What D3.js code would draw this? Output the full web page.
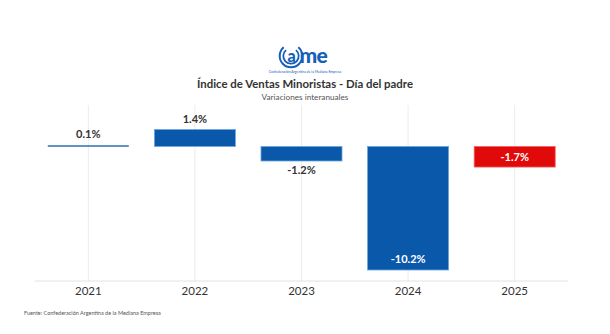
<!DOCTYPE html>
<html>
<head>
<meta charset="utf-8">
<script src="https://cdn.jsdelivr.net/npm/d3@7"></script>
<style>
  body { margin: 0; background: #fff; }
  svg { display: block; font-family: "Lato", "Open Sans", sans-serif; }
</style>
</head>
<body>
<svg id="chart" width="610" height="334"></svg>
<script>
const years = ["2021", "2022", "2023", "2024", "2025"];
const values = [0.1, 1.4, -1.2, -10.2, -1.7];
const labels = ["0.1%", "1.4%", "-1.2%", "-10.2%", "-1.7%"];
const barColors = ["#2f6fb3", "#0a58aa", "#0a58aa", "#0a58aa", "#e10a0a"];

const svg = d3.select("#chart");
const margin = { left: 35, right: 42, top: 105, bottom: 53 };
const width = 610, height = 334;

const x = d3.scaleBand()
  .domain(years)
  .range([margin.left, width - margin.right])
  .paddingInner(0.24)
  .paddingOuter(0.12);

const y = d3.scaleLinear()
  .domain([-10.2, 1.4])
  .range([270, 129.5]);

// logo
const logo = svg.append("g").attr("transform", "translate(291,56)");
const ring = d3.arc();
[[10.3, 12.3], [6.8, 8.6]].forEach(([r0, r1]) => {
  logo.append("path")
    .attr("d", ring({ innerRadius: r0, outerRadius: r1, startAngle: 0.7, endAngle: 2 * Math.PI - 0.7 }))
    .attr("fill", "#1560b8");
});
logo.append("text")
  .attr("x", 0.5).attr("y", 5.5)
  .attr("text-anchor", "middle")
  .attr("font-size", 16).attr("font-weight", 900)
  .attr("fill", "#1560b8")
  .text("a");
logo.append("text")
  .attr("x", 8.5).attr("y", 6.5)
  .attr("font-size", 21).attr("font-weight", 900)
  .attr("letter-spacing", -0.8)
  .attr("fill", "#1560b8")
  .text("me");
svg.append("text")
  .attr("x", 305).attr("y", 72.5)
  .attr("text-anchor", "middle")
  .attr("font-size", 3.4)
  .attr("fill", "#1560b8")
  .text("Confederación Argentina de la Mediana Empresa");

// titles
svg.append("text")
  .attr("x", 305).attr("y", 88)
  .attr("text-anchor", "middle")
  .attr("font-size", 11.4).attr("font-weight", 700)
  .attr("fill", "#333")
  .text("Índice de Ventas Minoristas - Día del padre");
svg.append("text")
  .attr("x", 305).attr("y", 100)
  .attr("text-anchor", "middle")
  .attr("font-size", 8.2)
  .attr("fill", "#555")
  .text("Variaciones interanuales");

// vertical grid at category centres
svg.append("g")
  .selectAll("line")
  .data(years)
  .join("line")
  .attr("x1", d => x(d) + x.bandwidth() / 2)
  .attr("x2", d => x(d) + x.bandwidth() / 2)
  .attr("y1", margin.top)
  .attr("y2", 281)
  .attr("stroke", "#ececec")
  .attr("stroke-width", 1);

// bars
svg.append("g")
  .selectAll("rect")
  .data(values)
  .join("rect")
  .attr("x", (d, i) => x(years[i]))
  .attr("width", x.bandwidth())
  .attr("y", d => Math.min(y(d), y(0)))
  .attr("height", d => Math.max(1.5, Math.abs(y(d) - y(0))))
  .attr("fill", (d, i) => barColors[i])
  .attr("stroke", (d, i) => i === 4 ? "#f26060" : "#6fa6dd")
  .attr("stroke-width", (d, i) => i === 0 ? 0 : 0.8);

// value labels
const labelPos = (d, i) => {
  if (d >= 0) return { y: y(d) - 7, fill: "#333" };
  if (i === 3) return { y: y(d) - 7, fill: "#fff" };
  if (i === 4) return { y: (y(d) + y(0)) / 2 + 3.8, fill: "#fff" };
  return { y: y(d) + 13, fill: "#333" };
};
svg.append("g")
  .selectAll("text")
  .data(values)
  .join("text")
  .attr("x", (d, i) => x(years[i]) + x.bandwidth() / 2)
  .attr("y", (d, i) => labelPos(d, i).y)
  .attr("text-anchor", "middle")
  .attr("font-size", 11).attr("font-weight", 700)
  .attr("fill", (d, i) => labelPos(d, i).fill)
  .text((d, i) => labels[i]);

// x axis
const xAxis = svg.append("g")
  .attr("transform", "translate(0,281)")
  .call(d3.axisBottom(x).tickSize(0).tickPadding(6));
xAxis.select(".domain").attr("stroke", "#e2e2e2").attr("d", `M${margin.left},0H${width - margin.right}`);
xAxis.selectAll("text")
  .attr("font-size", 11.5)
  .attr("font-family", "Lato, 'Open Sans', sans-serif")
  .attr("fill", "#333");

// source
svg.append("text")
  .attr("x", 24).attr("y", 315)
  .attr("font-size", 5.5)
  .attr("fill", "#555")
  .text("Fuente: Confederación Argentina de la Mediana Empresa");
</script>
</body>
</html>
